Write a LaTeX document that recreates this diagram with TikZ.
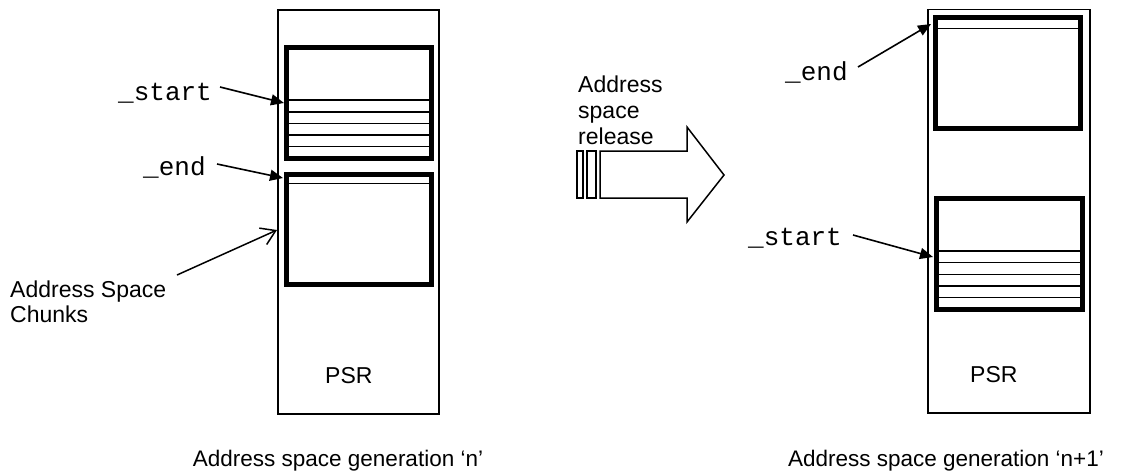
\documentclass[tikz,border=0pt]{standalone}
\usepackage{fontspec}
\setmainfont{Liberation Sans}
\setmonofont{Liberation Mono}
\usetikzlibrary{arrows.meta}
\begin{document}
\begin{tikzpicture}[x=1pt,y=-1pt,
  outer/.style={draw,line width=1.5pt},
  chunk/.style={draw,line width=5pt},
  slot/.style={line width=1.3pt},
  ptr/.style={line width=1.6pt,-{Triangle[length=13pt,width=11pt]}},
  openptr/.style={line width=1.5pt,-{Straight Barb[length=14pt,width=18pt]}},
  lbl/.style={inner sep=0pt,anchor=base west,font=\fontsize{23}{26}\selectfont},
  mono/.style={inner sep=0pt,anchor=base west,font=\fontsize{26}{28}\selectfont\ttfamily},
  genlbl/.style={inner sep=0pt,anchor=base,font=\fontsize{22.5}{26}\selectfont}]
\useasboundingbox (0,0) rectangle (1123,475);

% ---------- left column (generation n) ----------
\draw[outer] (278,10) rectangle (439,414);
\foreach \yy in {100,112,123.5,135,146.5} \draw[slot] (286,\yy) -- (431,\yy);
\draw[chunk] (286,47) rectangle (431,158.5);
\draw[slot] (286,183.5) -- (431,183.5);
\draw[chunk] (286,174.5) rectangle (431,284);
\node[lbl] (psrL) at (325,383) {PSR};

\node[mono] (startL) at (118,100) {\_start};
\node[mono] (endL) at (143,175) {\_end};
\node[lbl] (chunksA) at (10,297) {Address Space};
\node[lbl] (chunksB) at (10,322) {Chunks};

\coordinate (startLt) at (220,87);
\coordinate (startLh) at (284,103);
\coordinate (endLt) at (217,164);
\coordinate (endLh) at (283,178);
\coordinate (chunkT) at (177,275);
\coordinate (chunkH) at (277,230);
\draw[ptr] (startLt) -- (startLh);
\draw[ptr] (endLt) -- (endLh);
\draw[openptr] (chunkT) -- (chunkH);

\node[genlbl] (genN) at (338,466) {Address space generation `n'};

% ---------- release arrow ----------
\draw[line width=1.5pt] (600,151) -- (687,151) -- (687,127) -- (724,175)
  -- (687,222) -- (687,198) -- (600,198) -- cycle;
\draw[line width=1.3pt] (577,151) rectangle (583,198);
\draw[line width=1.3pt] (587,151) rectangle (596,198);
\node[lbl] (rel1) at (578,92) {Address};
\node[lbl] (rel2) at (578,118) {space};
\node[lbl] (rel3) at (578,144) {release};

% ---------- right column (generation n+1) ----------
\draw[outer] (928,9.5) rectangle (1090,413);
\draw[slot] (935,28.5) -- (1080.5,28.5);
\draw[chunk] (935,17.5) rectangle (1080.5,128.5);
\foreach \yy in {251,262.5,274.5,286,297.5} \draw[slot] (936,\yy) -- (1082,\yy);
\draw[chunk] (936,198) rectangle (1082,309.5);
\node[lbl] (psrR) at (970,382) {PSR};

\node[mono] (endR) at (785,80) {\_end};
\node[mono] (startR) at (748,245) {\_start};
\coordinate (endRt) at (858,67);
\coordinate (endRh) at (931,24);
\coordinate (startRt) at (853,235);
\coordinate (startRh) at (933,257);
\draw[ptr] (endRt) -- (endRh);
\draw[ptr] (startRt) -- (startRh);

\node[genlbl] (genN1) at (946,466) {Address space generation `n+1'};
\end{tikzpicture}
\end{document}
